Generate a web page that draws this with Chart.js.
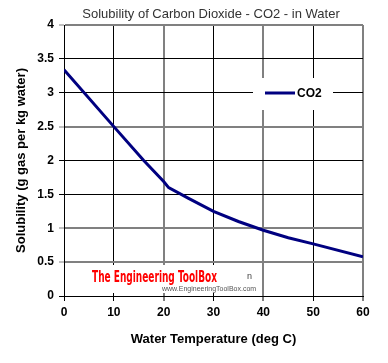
<!DOCTYPE html>
<html>
<head>
<meta charset="utf-8">
<script src="https://cdn.jsdelivr.net/npm/chart.js@4"></script>
<style>
  html, body { margin: 0; padding: 0; background: #fff; }
  #wrap { width: 388px; height: 363px; }
</style>
</head>
<body>
<div id="wrap"><canvas id="c"></canvas></div>
<script>
// values
const TEMPS = [0, 10, 16, 20, 21, 25, 30, 35, 40, 45, 50, 60];
const CO2 = [3.34, 2.5, 2.0, 1.69, 1.6, 1.44, 1.25, 1.1, 0.97, 0.86, 0.77, 0.58];
const X_TICKS = [0, 10, 20, 30, 40, 50, 60];
const Y_TICKS = [0, 0.5, 1, 1.5, 2, 2.5, 3, 3.5, 4];
// which grid lines show up grey in the reference
const X_GREY = [20, 40, 60];
const Y_GREY = [4, 2.5, 1, 0.5];

const extras = {
  id: 'extras',
  afterDraw(chart) {
    const ctx = chart.ctx, a = chart.chartArea;
    ctx.save();
    // title
    ctx.fillStyle = '#333'; ctx.font = '13px "Liberation Sans", Arial'; ctx.textAlign = 'center'; ctx.textBaseline = 'middle';
    ctx.fillText('Solubility of Carbon Dioxide - CO2 - in Water', 211, 14);

    // legend box inside plot
    ctx.fillStyle = '#fff'; ctx.fillRect(253, 78, 80, 32);
    ctx.strokeStyle = '#000080'; ctx.lineWidth = 3;
    ctx.beginPath(); ctx.moveTo(265, 93); ctx.lineTo(295, 93); ctx.stroke();
    ctx.fillStyle = '#000'; ctx.font = 'bold 12px "Liberation Sans", Arial'; ctx.textAlign = 'left';
    ctx.fillText(chart.data.datasets[0].label, 297, 94);

    // watermark
    ctx.fillStyle = '#fff'; ctx.fillRect(a.left + 2, 265, 190, 28);
    ctx.save();
    ctx.translate(92, 278);
    ctx.font = 'bold 16px "DejaVu Sans Condensed", "Liberation Sans"';
    const w = ctx.measureText('The Engineering ToolBox').width;
    ctx.scale(125 / w, 1);
    ctx.fillStyle = '#f00'; ctx.textAlign = 'left';
    ctx.fillText('The Engineering ToolBox', 0, 0);
    ctx.restore();
    ctx.fillStyle = '#555'; ctx.font = '7px "Liberation Sans", Arial';
    ctx.fillText('www.EngineeringToolBox.com', 162, 289);
    ctx.fillStyle = '#444'; ctx.font = '9px "Liberation Sans", Arial';
    ctx.fillText('n', 247, 277);
    ctx.restore();
  }
};

const tickFont = { family: '"Liberation Sans", Arial', size: 12, weight: 'bold' };
const titleFont = { family: '"Liberation Sans", Arial', size: 13, weight: 'bold' };

new Chart(document.getElementById('c'), {
  type: 'line',
  data: {
    datasets: [{
      label: 'CO2',
      data: TEMPS.map((t, i) => ({ x: t, y: CO2[i] })),
      borderColor: '#000080', borderWidth: 3, pointRadius: 0, tension: 0, fill: false,
    }],
  },
  options: {
    responsive: true, maintainAspectRatio: false, animation: false,
    layout: { padding: { top: 25, right: 25, left: 0, bottom: 0 } },
    plugins: { legend: { display: false }, title: { display: false }, tooltip: { enabled: false } },
    scales: {
      x: {
        type: 'linear', min: 0, max: 60,
        afterBuildTicks: s => { s.ticks = X_TICKS.map(v => ({ value: v })); },
        afterFit: s => { s.height = 67; },
        ticks: { color: '#000', font: tickFont, padding: 4, maxRotation: 0, callback: v => String(v) },
        grid: {
          color: c => X_GREY.includes(c.tick && c.tick.value) ? '#808080' : '#000',
          lineWidth: c => X_GREY.includes(c.tick && c.tick.value) ? 2 : 1,
          tickLength: 5, tickColor: '#000', tickWidth: 1,
        },
        border: { color: '#000', width: 1 },
        title: { display: true, text: 'Water Temperature (deg C)', color: '#000', font: titleFont, padding: { bottom: 16 } },
      },
      y: {
        min: 0, max: 4,
        afterBuildTicks: s => { s.ticks = Y_TICKS.map(v => ({ value: v })); },
        afterFit: s => { s.width = 64; },
        ticks: { color: '#000', font: tickFont, padding: 5, callback: v => String(v) },
        grid: {
          color: c => Y_GREY.includes(c.tick && c.tick.value) ? '#808080' : '#000',
          lineWidth: c => Y_GREY.includes(c.tick && c.tick.value) ? 2 : 1,
          tickLength: 5, tickColor: c => Y_GREY.includes(c.tick && c.tick.value) ? '#808080' : '#000', tickWidth: 1,
        },
        border: { color: '#000', width: 1 },
        title: { display: true, text: 'Solubility (g gas per kg water)', color: '#000', font: titleFont, padding: { top: 14 } },
      },
    },
  },
  plugins: [extras],
});
</script>
</body>
</html>
